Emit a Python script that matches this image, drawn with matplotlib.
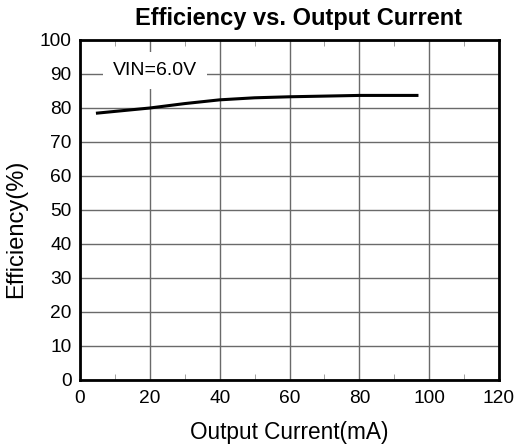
import matplotlib
matplotlib.use("Agg")
import matplotlib.pyplot as plt
from matplotlib.ticker import MultipleLocator

plt.rcParams["font.family"] = ["Liberation Sans", "DejaVu Sans"]

# efficiency curve, VIN=6.0V
current_ma = [5, 10, 20, 30, 40, 50, 60, 70, 80, 90, 96.5]
efficiency = [78.5, 79.0, 80.0, 81.3, 82.4, 83.0, 83.3, 83.5, 83.7, 83.7, 83.7]

fig = plt.figure(figsize=(5.17, 4.46), dpi=100)
ax = fig.add_axes([80 / 517, 66 / 446, 419 / 517, 340 / 446])

ax.plot(current_ma, efficiency, color="black", lw=2.2, zorder=3)

ax.set_xlim(0, 120)
ax.set_ylim(0, 100)
ax.xaxis.set_major_locator(MultipleLocator(20))
ax.xaxis.set_minor_locator(MultipleLocator(10))
ax.yaxis.set_major_locator(MultipleLocator(10))
ax.grid(True, which="major", color="#6a6a6a", lw=1.0)
ax.tick_params(which="both", direction="in", top=True, length=0, labelsize=13.8)
ax.tick_params(axis="x", pad=7)
ax.tick_params(axis="y", pad=6)
ax.tick_params(which="minor", length=4, color="#909090")
for s in ax.spines.values():
    s.set_linewidth(2.0)
    s.set_zorder(4)

ax.text(21.5, 91, "VIN=6.0V", fontsize=14, ha="center", va="center",
        bbox=dict(facecolor="white", edgecolor="none", pad=7), zorder=2)

fig.text(298.5 / 517, 1 - 18.5 / 446, "Efficiency vs. Output Current",
         fontsize=17, fontweight="bold", ha="center", va="center")
fig.text(289 / 517, 1 - 432 / 446, "Output Current(mA)", fontsize=16.3,
         ha="center", va="center")
fig.text(16.5 / 517, 1 - 229 / 446, "Efficiency(%)", fontsize=17,
         rotation=90, ha="center", va="center")

fig.savefig("out.png", dpi=100)
